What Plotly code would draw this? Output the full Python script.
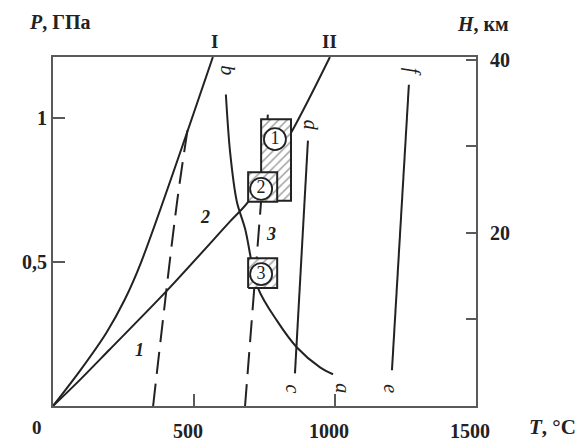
import plotly.graph_objects as go

# ---- data (T in °C, P in GPa) ----
curve_I_T = [0, 100, 190, 255, 313, 567]
curve_I_P = [0, 0.128, 0.255, 0.37, 0.50, 1.21]

curve_II_T = [0, 100, 200, 404, 628, 692, 840, 982]
curve_II_P = [0, 0.095, 0.195, 0.40, 0.64, 0.708, 0.94, 1.21]

curve_ab_T = [613, 628, 652, 681, 727, 794, 865, 947, 993]
curve_ab_P = [1.08, 0.88, 0.708, 0.615, 0.409, 0.296, 0.203, 0.134, 0.110]

curve_cd_T = [858, 904]
curve_cd_P = [0.113, 0.92]

curve_ef_T = [1202, 1262]
curve_ef_P = [0.124, 1.114]

dash1_T = [355, 440, 479]
dash1_P = [0, 0.708, 0.97]

dash3_T = [681, 762]
dash3_P = [0, 1.01]

box_T0 = [738, 692, 692]
box_T1 = [844, 795, 795]
box_P0 = [0.712, 0.708, 0.409]
box_P1 = [0.994, 0.81, 0.512]
circle_T = [787, 738, 738]
circle_P = [0.925, 0.753, 0.457]
circle_lbl = ["1", "2", "3"]

curve_lbl = ["1", "2", "3"]
curve_lbl_T = [308, 539, 772]
curve_lbl_P = [0.193, 0.657, 0.595]

end_lbl = ["a", "b", "c", "d", "e", "f"]
end_lbl_T = [1030, 620, 852, 915, 1200, 1275]
end_lbl_P = [0.06, 1.165, 0.06, 0.975, 0.06, 1.16]

top_lbl = ["I", "II"]
top_lbl_T = [574, 982]

x_ticks = [500, 1000, 1500]
x_ticktext = ["<b>500</b>", "<b>1000</b>", "<b>1500</b>"]
y_ticks = [0.5, 1.0]
y_ticktext = ["<b>0,5</b>", "<b>1</b>"]
h_ticks = [10, 20, 30, 40]
h_ticktext = ["", "<b>20</b>", "", "<b>40</b>"]

P_MAX = 1.21
H_PER_GPA = 40 / 1.2

INK = "#222222"
AX = "#5a5a5a"
SERIF = "Liberation Serif"

fig = go.Figure()

def line(T, P, dash="solid", shape="spline"):
    fig.add_trace(go.Scatter(x=T, y=P, mode="lines",
                             line=dict(color=INK, width=2, dash=dash, shape=shape, smoothing=0.9),
                             hoverinfo="skip", showlegend=False))

line(curve_I_T, curve_I_P)
line(curve_II_T, curve_II_P)
line(curve_ab_T, curve_ab_P)
line(curve_cd_T, curve_cd_P, shape="linear")
line(curve_ef_T, curve_ef_P, shape="linear")
line(dash1_T, dash1_P, dash="22px,10px")
line(dash3_T, dash3_P, dash="22px,10px", shape="linear")

# boxes (hatched) on top
for i in range(3):
    t0, t1, p0, p1 = box_T0[i], box_T1[i], box_P0[i], box_P1[i]
    fig.add_trace(go.Scatter(x=[t0, t1, t1, t0, t0], y=[p0, p0, p1, p1, p0],
                             mode="lines", fill="toself", fillcolor="white",
                             fillpattern=dict(shape="/", fgcolor="#444", bgcolor="white",
                                              size=6, solidity=0.25),
                             line=dict(color=INK, width=2),
                             hoverinfo="skip", showlegend=False))

fig.add_trace(go.Scatter(x=circle_T, y=circle_P, mode="markers+text",
                         marker=dict(symbol="circle", size=22, color="white",
                                     line=dict(color=INK, width=1.8)),
                         text=circle_lbl, textposition="middle center",
                         textfont=dict(family=SERIF, size=18, color=INK),
                         hoverinfo="skip", showlegend=False))

# secondary axis carrier (depth H)
fig.add_trace(go.Scatter(x=[0], y=[0], yaxis="y2", mode="markers",
                         marker=dict(opacity=0), hoverinfo="skip", showlegend=False))

ann = []
for t, T, P in zip(curve_lbl, curve_lbl_T, curve_lbl_P):
    ann.append(dict(x=T, y=P, text=f"<b><i>{t}</i></b>", showarrow=False,
                    font=dict(family=SERIF, size=18, color=INK)))
for t, T, P in zip(end_lbl, end_lbl_T, end_lbl_P):
    ann.append(dict(x=T, y=P, text=f"<i>{t}</i>", showarrow=False, textangle=90,
                    font=dict(family=SERIF, size=20, color=INK)))
for t, T in zip(top_lbl, top_lbl_T):
    ann.append(dict(x=T, xref="x", yref="paper", y=1.043, yanchor="middle",
                    text=f"<b>{t}</b>", showarrow=False,
                    font=dict(family=SERIF, size=19, color=INK)))
ann.append(dict(x=0, y=0, text="<b>0</b>", showarrow=False, xshift=-16, yshift=-21,
                font=dict(family=SERIF, size=19, color=INK)))
ann.append(dict(xref="paper", yref="paper", x=-0.0615, y=1.100, xanchor="left",
                yanchor="middle", text="<b><i>P</i>, ГПа</b>", showarrow=False,
                font=dict(family=SERIF, size=20, color=INK)))
ann.append(dict(xref="paper", yref="paper", x=0.95, y=1.095, xanchor="left",
                yanchor="middle", text="<b><i>H</i>, км</b>", showarrow=False,
                font=dict(family=SERIF, size=20, color=INK)))
ann.append(dict(xref="paper", yref="paper", x=1.12, y=-0.06, xanchor="left",
                yanchor="middle", text="<b><i>T</i>, °C</b>", showarrow=False,
                font=dict(family=SERIF, size=21, color=INK)))

fig.update_layout(
    width=579, height=434,
    margin=dict(l=45, r=111, t=49, b=36),
    paper_bgcolor="white", plot_bgcolor="white",
    showlegend=False,
    annotations=ann,
    xaxis=dict(range=[0, 1500], tickvals=x_ticks, ticktext=x_ticktext,
               ticks="inside", ticklen=12, tickwidth=1.5, tickcolor=AX,
               showline=True, linecolor=AX, linewidth=1.8, mirror=True,
               showgrid=False, zeroline=False, ticklabelstandoff=6,
               ticklabelshift=-6, automargin=False,
               tickfont=dict(family=SERIF, size=20, color=INK)),
    yaxis=dict(range=[0, P_MAX], tickvals=y_ticks, ticktext=y_ticktext,
               ticks="inside", ticklen=12, tickwidth=1.5, tickcolor=AX,
               showline=True, linecolor=AX, linewidth=1.8, automargin=False,
               showgrid=False, zeroline=False,
               tickfont=dict(family=SERIF, size=20, color=INK)),
    yaxis2=dict(overlaying="y", side="right", range=[0, P_MAX * H_PER_GPA],
                tickvals=h_ticks, ticktext=h_ticktext,
                ticks="inside", ticklen=10, tickwidth=1.5, tickcolor=AX,
                showline=True, linecolor=AX, linewidth=1.8, automargin=False,
                showgrid=False, zeroline=False, ticklabelstandoff=8,
                tickfont=dict(family=SERIF, size=20, color=INK)),
)

fig.write_html("out.html")
